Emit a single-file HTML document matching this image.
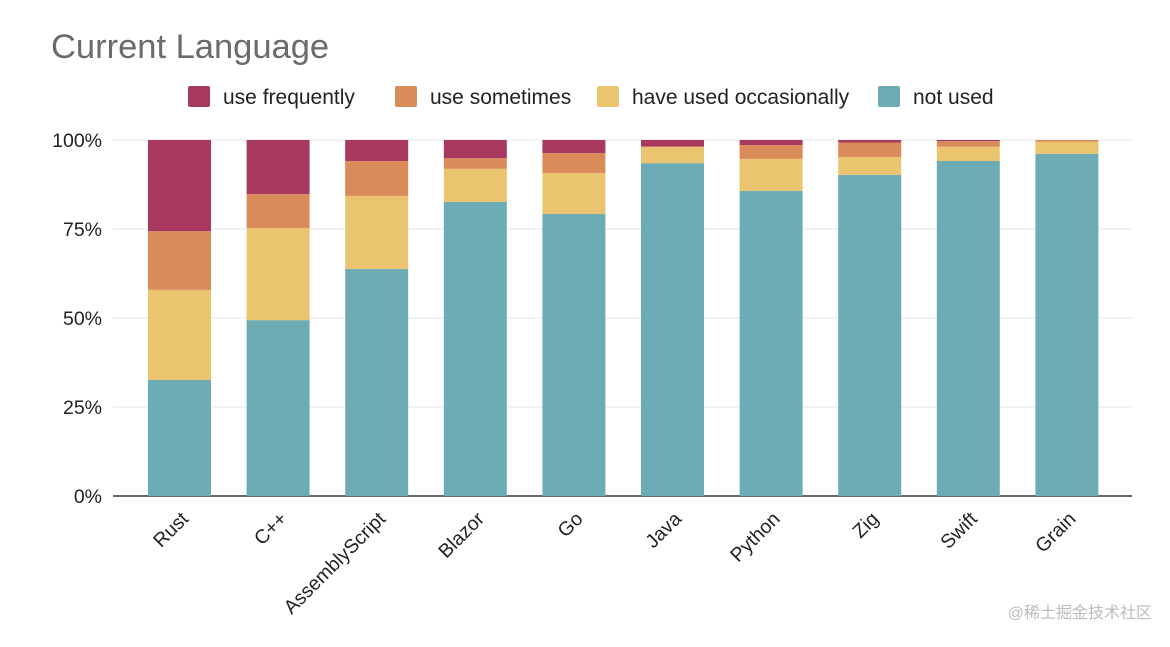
<!DOCTYPE html>
<html><head><meta charset="utf-8"><style>
body{margin:0;background:#fff;width:1170px;height:642px;overflow:hidden;font-family:"Liberation Sans",Arial,sans-serif}
</style></head><body>
<svg id="chart" width="1170" height="642">
<text x="51" y="58" font-size="34.5" fill="#6b6b6b">Current Language</text>
<g id="legend"></g><g id="grid"></g><g id="bars"></g><g id="labels"></g>
<text x="1152" y="618" font-size="16" fill="#bbb" text-anchor="end" font-family="'Liberation Sans','Noto Sans CJK SC',sans-serif">@稀土掘金技术社区</text>
</svg>
<script>
const categories=["Rust","C++","AssemblyScript","Blazor","Go","Java","Python","Zig","Swift","Grain"];
const notUsed=[32.6,49.4,63.8,82.6,79.2,93.5,85.7,90.2,94.1,96.1];
const occasionally=[25.3,25.9,20.5,9.3,11.5,4.5,9.0,5.0,4.0,3.4];
const sometimes=[16.5,9.5,9.8,3.0,5.6,0.2,3.9,4.1,1.6,0.5];
const frequently=[25.6,15.2,5.9,5.1,3.7,1.8,1.4,0.7,0.3,0.0];
const yTicks=[0,25,50,75,100];
const seriesNames=["use frequently","use sometimes","have used occasionally","not used"];
const colors={"not used":"#6eacb5","have used occasionally":"#ebc46f","use sometimes":"#d98c5a","use frequently":"#a8385d"};
const NS="http://www.w3.org/2000/svg";
const y0=496,y1=140,x0=113,step=98.6,bw=63;
const yS=v=>y0-(v/100)*(y0-y1);
const xS=i=>x0+35+i*step;
function mk(t,a,p){const e=document.createElementNS(NS,t);for(const k in a)e.setAttribute(k,a[k]);p.appendChild(e);return e;}
const grid=document.getElementById('grid');
yTicks.forEach(t=>{
  const l=mk('line',{x1:x0,x2:1132,y1:yS(t),y2:yS(t),stroke:t===0?'#333':'#e6e6e6','stroke-width':t===0?1.5:1},grid);
  
  
  const tx=mk('text',{x:102,y:yS(t)+7,'font-size':19.5,fill:'#222','text-anchor':'end'},grid);
  tx.textContent=t+'%';
  
  
});
const bars=document.getElementById('bars'),labels=document.getElementById('labels');
const stack=[["not used",notUsed],["have used occasionally",occasionally],["use sometimes",sometimes],["use frequently",frequently]];
categories.forEach((c,i)=>{
  let base=0;const x=xS(i);
  stack.forEach(([n,arr])=>{
    const v=arr[i];if(v<=0)return;
    const r=mk('rect',{x:x,y:yS(base+v),width:bw,height:yS(base)-yS(base+v),fill:colors[n]},bars);
    
    
    base+=v;
  });
  const cx=x+bw/2+10,cy=520;
  const t=mk('text',{x:cx,y:cy,'font-size':19.5,fill:'#222','text-anchor':'end',transform:`rotate(-45 ${cx} ${cy})`},labels);
  t.textContent=c;
  
  
});
const lg=document.getElementById('legend');
const lx=[188,395,597,878];
seriesNames.forEach((n,i)=>{
  const r=mk('rect',{x:lx[i],y:86,width:22,height:21,rx:2,fill:colors[n]},lg);
  
  
  const t=mk('text',{x:lx[i]+35,y:104,'font-size':21,fill:'#222'},lg);
  t.textContent=n;
  
  
});
</script>
</body></html>
